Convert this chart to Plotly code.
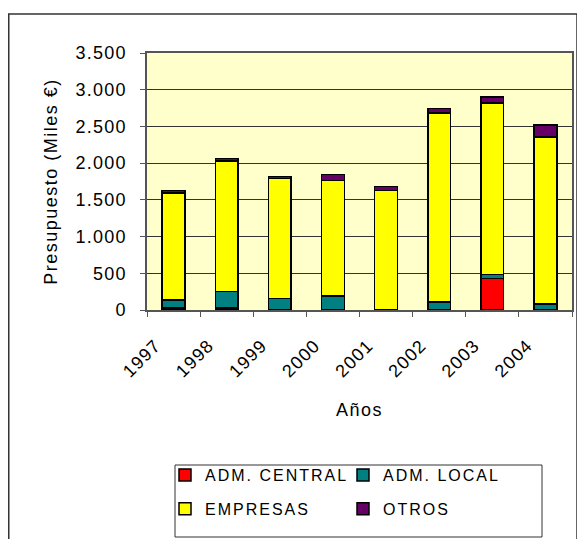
import plotly.graph_objects as go

years = ["1997", "1998", "1999", "2000", "2001", "2002", "2003", "2004"]
adm_central = [25, 30, 0, 0, 0, 0, 430, 0]
adm_local = [110, 220, 160, 190, 0, 110, 55, 80]
empresas = [1460, 1777, 1628, 1575, 1627, 2572, 2335, 2275]
otros = [35, 35, 30, 80, 55, 60, 80, 165]

y_tickvals = [0, 500, 1000, 1500, 2000, 2500, 3000, 3500]
y_ticktext = ["0", "500", "1.000", "1.500", "2.000", "2.500", "3.000", "3.500"]

series = [
    ("ADM. CENTRAL", adm_central, "#FF0000", "legend", "g1"),
    ("ADM. LOCAL", adm_local, "#008080", "legend2", "g2"),
    ("EMPRESAS", empresas, "#FFFF00", "legend", "g3"),
    ("OTROS", otros, "#660066", "legend2", "g4"),
]

FONT = "Liberation Sans, Arial, sans-serif"


def sp(text, ls):
    return f"<span style='letter-spacing:{ls}px'>{text}</span>"


# page has an 8px body margin; coordinates below are page pixels
OFF = 8
W, H = 585 - OFF, 539 - OFF
PL, PR, PT, PB = 147, 572, 53, 310  # plot area in page px
L, R, T, B = PL - OFF, W - (PR - OFF), PT - OFF, H - (PB - OFF)
pw, ph = W - L - R, H - T - B


def px(x):
    return (x - OFF - L) / pw


def py(y):
    return (H - B - (y - OFF)) / ph


fig = go.Figure()
for name, vals, color, leg, grp in series:
    fig.add_trace(go.Bar(
        x=years, y=vals, name=sp(name, 2),
        marker=dict(color=color, line=dict(color="#000000", width=1.5)),
        legend=leg, legendgroup=grp,
    ))

legend_common = dict(
    font=dict(family=FONT, size=16, color="#000"),
    bgcolor="rgba(0,0,0,0)",
    traceorder="grouped",
    tracegroupgap=10,
    xanchor="left", yanchor="top",
    orientation="v",
)

fig.update_layout(
    width=W, height=H,
    margin=dict(l=L, r=R, t=T, b=B, autoexpand=False),
    paper_bgcolor="#FFFFFF",
    plot_bgcolor="#FFFFCC",
    barmode="stack",
    bargap=0.57,
    font=dict(family=FONT, size=18, color="#000"),
    showlegend=True,
    legend=dict(x=px(165), y=py(458), **legend_common),
    legend2=dict(x=px(343), y=py(458), **legend_common),
    xaxis=dict(
        type="category",
        showline=True, linecolor="#555", linewidth=1.5, mirror=True,
        ticks="outside", tickson="boundaries", ticklen=5, tickcolor="#555", tickwidth=1,
        tickangle=-45,
        tickvals=years, ticktext=[sp(y, 1.2) for y in years],
        ticklabelshift=-18, ticklabelstandoff=16,
        tickfont=dict(family=FONT, size=18),
        title=dict(text=sp("Años", 1.5), font=dict(family=FONT, size=18), standoff=23),
        showgrid=False,
    ),
    yaxis=dict(
        range=[0, 3500],
        tickvals=y_tickvals, ticktext=[sp(t, 1.2) for t in y_ticktext],
        showline=True, linecolor="#555", linewidth=1.5, mirror=True,
        ticks="outside", ticklen=5, tickcolor="#555", tickwidth=1,
        ticklabelstandoff=10,
        tickfont=dict(family=FONT, size=18),
        showgrid=True, gridcolor="#333", gridwidth=1,
        zeroline=False,
        title=dict(text=sp("Presupuesto (Miles €)", 1.5), font=dict(family=FONT, size=18), standoff=13),
    ),
    shapes=[
        dict(type="rect", xref="paper", yref="paper",
             x0=px(8.75), x1=px(577), y0=py(560), y1=py(14),
             line=dict(color="#333", width=1.5), fillcolor="rgba(0,0,0,0)", layer="below"),
        dict(type="rect", xref="paper", yref="paper",
             x0=px(175), x1=px(542), y0=py(537), y1=py(465),
             line=dict(color="#333", width=1), fillcolor="rgba(0,0,0,0)", layer="above"),
    ],
)

fig.write_html("out.html")
